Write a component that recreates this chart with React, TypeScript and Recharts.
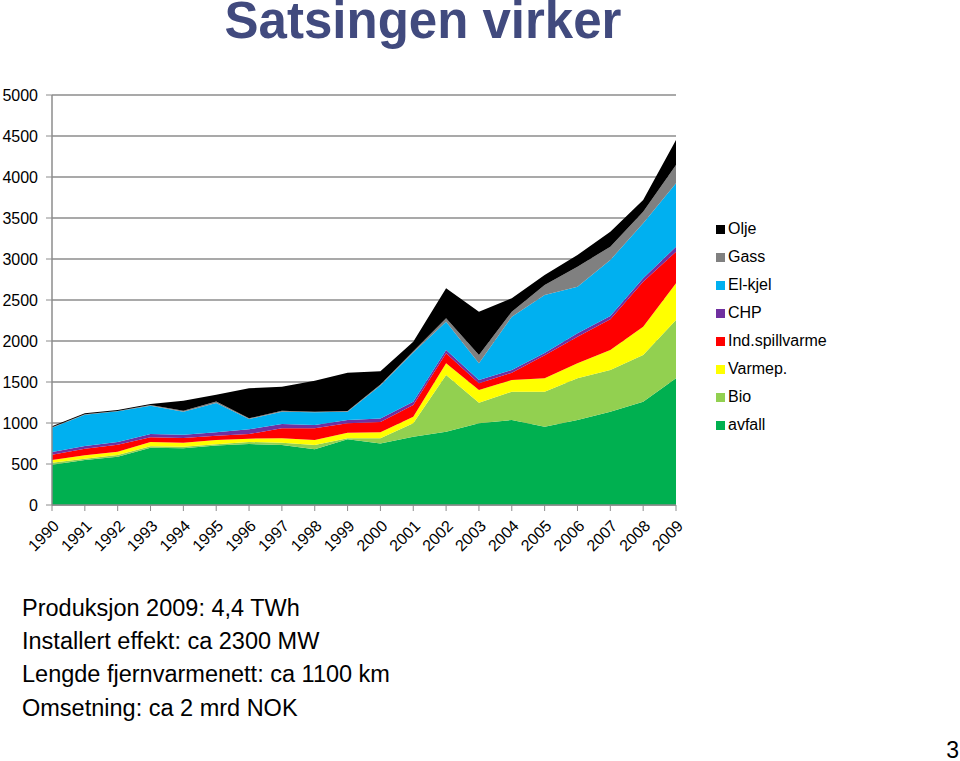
import React from 'react';
import { AreaChart, Area, XAxis, YAxis, CartesianGrid, Legend } from 'recharts';

const years = ['1990','1991','1992','1993','1994','1995','1996','1997','1998','1999','2000','2001','2002','2003','2004','2005','2006','2007','2008','2009'];
const avfall = [490,549,589,699,691,725,744,732,679,801,750,833,894,996,1037,955,1037,1138,1260,1545];
const bio = [26,16,21,17,20,15,24,28,53,12,63,163,691,252,345,427,508,508,569,711];
const varmep = [33,41,40,52,49,53,41,53,61,69,73,81,143,154,142,163,183,244,346,448];
const indSpill = [63,81,86,57,57,50,57,122,142,114,125,143,122,82,90,280,325,374,549,385];
const chp = [34,33,32,41,41,45,57,53,41,41,45,40,40,40,32,30,40,41,41,61];
const elkjel = [297,381,374,345,280,355,126,150,154,101,400,600,346,204,651,706,570,683,670,773];
const gass = [5,5,5,10,10,20,8,12,8,8,15,15,41,101,61,122,244,162,142,223];
const olje = [12,12,12,11,124,80,366,293,378,468,160,117,366,529,163,122,142,183,143,305];
const yTicks = [0,500,1000,1500,2000,2500,3000,3500,4000,4500,5000];

const seriesNames = ['avfall','Bio','Varmep.','Ind.spillvarme','CHP','El-kjel','Gass','Olje'];
const seriesValues = [avfall, bio, varmep, indSpill, chp, elkjel, gass, olje];
const seriesColors = ['#00b050','#92d050','#ffff00','#ff0000','#7030a0','#00b0f0','#808080','#000000'];

const infoLines = [
  'Produksjon 2009: 4,4 TWh',
  'Installert effekt: ca 2300 MW',
  'Lengde fjernvarmenett: ca 1100 km',
  'Omsetning: ca 2 mrd NOK',
];

const data = years.map((y, i) => {
  const row: Record<string, string | number> = { year: y };
  seriesNames.forEach((n, k) => { row[n] = seriesValues[k][i]; });
  return row;
});

const FONT = "'Liberation Sans', Arial, Helvetica, sans-serif";

const LegendContent = () => (
  <div style={{ fontFamily: FONT, fontSize: 16, color: '#000' }}>
    {seriesNames.map((n, k) => ({ n, c: seriesColors[k] })).reverse().map(({ n, c }) => (
      <div key={n} style={{ height: 28, display: 'flex', alignItems: 'center' }}>
        <span style={{ display: 'inline-block', width: 9, height: 9, background: c, marginRight: 3 }} />
        <span>{n}</span>
      </div>
    ))}
  </div>
);

export default function App() {
  return (
    <div style={{ position: 'absolute', left: 0, top: 0, width: 960, height: 761, background: '#fff', overflow: 'hidden' }}>
      <AreaChart
        width={960}
        height={761}
        data={data}
        margin={{ top: 95, right: 284, bottom: 0, left: 0 }}
      >
        <CartesianGrid vertical={false} stroke="#8c8c8c" strokeWidth={1.5} />
        <XAxis
          dataKey="year"
          interval={0}
          tickLine={{ stroke: '#8c8c8c' }}
          axisLine={{ stroke: '#8c8c8c', strokeWidth: 1.5 }}
          tickSize={6}
          tickMargin={8}
          angle={-45}
          textAnchor="end"
          tick={{ fill: '#000', fontSize: 16, fontFamily: FONT }}
          height={256}
        />
        <YAxis
          width={52}
          domain={[0, 5000]}
          ticks={yTicks}
          interval={0}
          tickLine={{ stroke: '#8c8c8c' }}
          axisLine={{ stroke: '#8c8c8c', strokeWidth: 1.5 }}
          tickSize={6}
          tickMargin={8}
          tick={{ fill: '#000', fontSize: 16, fontFamily: FONT }}
        />
        {seriesNames.map((n, k) => (
          <Area
            key={n}
            type="linear"
            dataKey={n}
            stackId="1"
            stroke="none"
            fill={seriesColors[k]}
            fillOpacity={1}
            isAnimationActive={false}
          />
        ))}
        <Legend
          layout="vertical"
          align="center"
          verticalAlign="middle"
          content={<LegendContent />}
          wrapperStyle={{ position: 'absolute', left: 716, top: 215, width: 170, height: 230 }}
        />
      </AreaChart>
      <svg width={960} height={761} style={{ position: 'absolute', left: 0, top: 0, pointerEvents: 'none' }}>
        <text x={423} y={38} textAnchor="middle" fontFamily={FONT} fontWeight="bold" fontSize={51} fill="#414a7e">
          Satsingen virker
        </text>
        {infoLines.map((t, i) => (
          <text key={t} x={22} y={616 + i * 33.2} fontFamily={FONT} fontSize={23.5} fill="#000">{t}</text>
        ))}
        <text x={959} y={758} textAnchor="end" fontFamily={FONT} fontSize={23} fill="#000">3</text>
      </svg>
    </div>
  );
}
